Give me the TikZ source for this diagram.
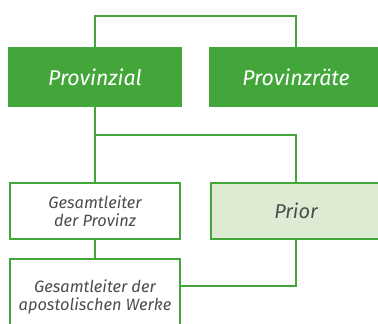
\documentclass[tikz,border=0pt]{standalone}
\usepackage{fontspec}
\setmainfont{Fira Sans}
\definecolor{grn}{HTML}{43A63A}
\definecolor{lgrn}{HTML}{DDEBD3}
\definecolor{txt}{HTML}{4D4D4D}
\begin{document}
\begin{tikzpicture}[x=0.75pt,y=-0.75pt,
  conn/.style={draw=grn,line width=1.8pt},
  solidbox/.style={fill=grn,text=white,minimum width=130.5pt,minimum height=45pt,inner sep=0pt,font=\fontsize{16}{19}\selectfont\itshape},
  linebox/.style={draw=grn,line width=1.8pt,text=txt,minimum width=127.5pt,minimum height=42pt,inner sep=0pt,align=center,font=\fontsize{12.3}{13.5}\selectfont\itshape}]
\useasboundingbox (0,0) rectangle (378,324);
\clip (0,0) rectangle (378,324);
\node[solidbox] (prov) at (95,77) {Provinzial};
\node[solidbox] (rate) at (296,77) {Provinzräte};
\node[linebox] (gp) at (95,211) {Gesamtleiter\\der Provinz};
\node[linebox,fill=lgrn,font=\fontsize{15}{17}\selectfont\itshape] (prior) at (296,211) {Prior};
\node[linebox,minimum height=57pt] (werke) at (95,297) {Gesamtleiter der\\apostolischen Werke};
\draw[conn] (prov.north) -- ++(0,-31) -| (rate.north);
\draw[conn] (prov.south) -- (gp.north);
\draw[conn] (prov.south) ++(0,28) -| (prior.north);
\draw[conn] (gp.south) -- (werke.north);
\draw[conn] (werke.north east) ++(0,28) -| (prior.south);
\end{tikzpicture}
\end{document}
